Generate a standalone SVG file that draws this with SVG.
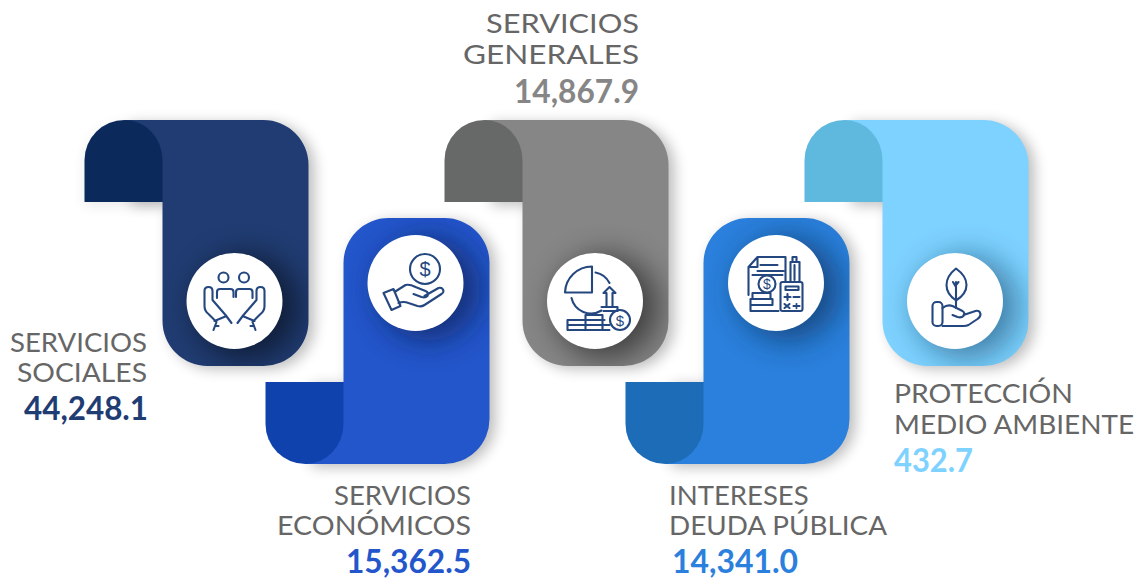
<svg xmlns="http://www.w3.org/2000/svg" width="1141" height="578" viewBox="0 0 1141 578">
<style>
.t{font-family:Lato,"Open Sans","Liberation Sans",sans-serif;font-size:27.5px;font-weight:400;fill:#666}
.n{font-family:Lato,"Open Sans","Liberation Sans",sans-serif;font-size:31.5px;font-weight:700}
.e{text-anchor:end}
.ic{fill:none;stroke:#24477f;stroke-width:2.1;stroke-linecap:round;stroke-linejoin:round}
.d{font-family:"Liberation Sans",sans-serif;fill:#24477f;text-anchor:middle}
.disc{fill:#fff}
</style>
<defs>
<filter id="b1" x="-30%" y="-30%" width="160%" height="160%"><feGaussianBlur stdDeviation="7"/></filter>
<filter id="b2" x="-60%" y="-60%" width="220%" height="220%"><feGaussianBlur stdDeviation="15"/></filter>
<path id="down" d="M125,120H263A45,45 0 0 1 308,165V321A45,45 0 0 1 263,366H207A45,45 0 0 1 162,321V202H125Z"/>
<path id="downtab" d="M84,202V160A40,40 0 0 1 124,120A38,40 0 0 1 162,160V202Z"/>
<path id="up" d="M388,218H444A45,45 0 0 1 489,263V419A45,45 0 0 1 444,464H305V382H343V263A45,45 0 0 1 388,218Z"/>
<path id="uptab" d="M265,382H343V424A38,40 0 0 1 305,464A40,40 0 0 1 265,424Z"/>
<clipPath id="cd"><use href="#down"/></clipPath>
<clipPath id="cu"><use href="#up"/></clipPath>
</defs>

<g id="node-servicios-sociales" transform="translate(.5 0)">
<use href="#down" x="6" y="3" fill="#000" opacity=".26" filter="url(#b1)"/>
<use href="#downtab" y="4" fill="#000" opacity=".08" filter="url(#b1)"/>
<use href="#down" fill="#203c72"/><use href="#downtab" fill="#0b2a5b"/>
<g clip-path="url(#cd)"><circle cx="246" cy="307" r="52" fill="#000" opacity=".52" filter="url(#b2)"/></g>
<circle class="disc" cx="234" cy="301" r="48"/>
<g class="ic">
<circle cx="223" cy="277.5" r="5"/><circle cx="243.5" cy="277.5" r="5"/>
<path d="M216.5,298V292Q216.5,289 219.5,289H230Q233,289 233,292V297M235.500,297V292Q235.500,289 238.500,289H249Q252,289 252,292V298"/>
<path d="M212,300V291Q212,287 208,287Q204,287 204,291V306Q204,311 208,314L215,321M212,300L225,315L231,323M214,321L226,316M216,322L213,330M215,326H218"/>
<path d="M256,300V291Q256,287 260,287Q264,287 264,291V306Q264,311 260,314L253,321M256,300L243,315L237,323M254,321L242,316M252,322L255,330M253,326H250"/>
</g>
</g>

<g id="node-servicios-economicos" transform="translate(.5 0)">
<use href="#up" x="6" y="3" fill="#000" opacity=".26" filter="url(#b1)"/>
<use href="#up" fill="#2356cb"/><use href="#uptab" fill="#1042ad"/>
<g clip-path="url(#cu)"><circle cx="428" cy="289" r="52" fill="#0b1d4d" opacity=".65" filter="url(#b2)"/></g>
<circle class="disc" cx="415" cy="283" r="48"/>
<g class="ic">
<circle cx="424.500" cy="269" r="15"/>
<path d="M383,293L393,289L400,306L391,310ZM394,292L405,285Q409,284 415,287L425,291Q429,293 427,296Q425,298 421,297L413,294M424,296L438,288Q442,287 443,291Q443,293 441,294L424,305Q421,307 417,306L408,303Q403,301 398,303"/>
</g>
<text class="d" x="424.500" y="276" font-size="20">$</text>
</g>

<g id="node-servicios-generales" transform="translate(.5 0)">
<use href="#down" x="366" y="3" fill="#000" opacity=".26" filter="url(#b1)"/>
<use href="#down" x="360" fill="#868686"/><use href="#downtab" x="360" fill="#676968"/>
<g clip-path="url(#cd)" transform="translate(360 0)"><circle cx="246" cy="307" r="52" fill="#000" opacity=".52" filter="url(#b2)"/></g>
<circle class="disc" cx="594.500" cy="301" r="48"/>
<g class="ic">
<path d="M591.500,266.500V292.500H564.500A27,27 0 0 1 591.500,266.500ZM595,272.500A20,20 0 0 1 609,283M571,298A20,20 0 0 0 601,310.500M606,306V293H603L609,287L615,293H612V306"/>
<path d="M567,320V330H609M567,325H609M567,320H585M585,315H602V330M585,320H604M601,307H617V311M603,311H617M585,315V330"/>
<circle cx="619.500" cy="320" r="10"/>
</g>
<text class="d" x="619.500" y="325.500" font-size="15">$</text>
</g>

<g id="node-intereses-deuda" transform="translate(.5 0)">
<use href="#up" x="366" y="3" fill="#000" opacity=".26" filter="url(#b1)"/>
<use href="#up" x="360" fill="#2a80dc"/><use href="#uptab" x="360" fill="#1c6cb8"/>
<g clip-path="url(#cu)" transform="translate(360 0)"><circle cx="428" cy="289" r="52" fill="#0b2d57" opacity=".65" filter="url(#b2)"/></g>
<circle class="disc" cx="775.500" cy="283" r="48"/>
<g class="ic">
<path d="M748,295V267L757,257H785V281M757,257V267H748M760,265H777M757,271H783M752,275H782M752,293H770M750,299H772M750,305H772M750,311H778M752,293V299M770,293V299M750,299V311M772,299V305"/>
<circle cx="766.500" cy="284" r="8.500"/>
<rect x="780" y="282" width="22" height="29" rx="2"/>
<path d="M785,286.500H798V290H785ZM784,297H790M787,294V300M793,297H799M784,304L789,308M789,304L784,308M793,306H799M796,304V304.100M796,308V308.100M790,282V262H799V282M792,262V257H796V262M794,265V280"/>
</g>
<text class="d" x="766.500" y="289" font-size="14">$</text>
</g>

<g id="node-proteccion" transform="translate(.5 0)">
<use href="#down" x="726" y="3" fill="#000" opacity=".26" filter="url(#b1)"/>
<use href="#down" x="720" fill="#7ed2ff"/><use href="#downtab" x="720" fill="#5fb8de"/>
<g clip-path="url(#cd)" transform="translate(720 0)"><circle cx="246" cy="307" r="52" fill="#0d3f63" opacity=".55" filter="url(#b2)"/></g>
<circle class="disc" cx="954.500" cy="301" r="48"/>
<g class="ic">
<path d="M955.500,268.500Q966,276 966,285Q966,294 955.500,300.500Q946,294 946,285Q946,276 955.500,268.500ZM955.500,282V308M955.500,287L952.500,282M955.500,285L958,282"/>
<rect x="932" y="302" width="10" height="24" rx="4"/>
<path d="M942,308Q947,304 952,306L962,311Q965,313 963,316Q961,318 957,317L952,315M963,315L975,311Q979,310 980,314Q980,317 977,319L968,325Q966,326 963,326H942"/>
</g>
</g>

<g id="labels">
<text class="t e" x="147" y="352" textLength="137" lengthAdjust="spacingAndGlyphs">SERVICIOS</text>
<text class="t e" x="147" y="382" textLength="130" lengthAdjust="spacingAndGlyphs">SOCIALES</text>
<text class="n e" x="148" y="420" fill="#1f3c73" textLength="124" lengthAdjust="spacingAndGlyphs">44,248.1</text>
<text class="t e" x="471" y="505" textLength="137" lengthAdjust="spacingAndGlyphs">SERVICIOS</text>
<text class="t e" x="471" y="535" textLength="194" lengthAdjust="spacingAndGlyphs">ECONÓMICOS</text>
<text class="n e" x="471" y="573" fill="#2356cb" textLength="125" lengthAdjust="spacingAndGlyphs">15,362.5</text>
<text class="t e" x="639" y="33" textLength="153" lengthAdjust="spacingAndGlyphs">SERVICIOS</text>
<text class="t e" x="639" y="64" textLength="176" lengthAdjust="spacingAndGlyphs">GENERALES</text>
<text class="n e" x="639" y="103" fill="#868686" textLength="125" lengthAdjust="spacingAndGlyphs">14,867.9</text>
<text class="t" x="669" y="505">INTERESES</text>
<text class="t" x="669" y="535" textLength="218" lengthAdjust="spacingAndGlyphs">DEUDA PÚBLICA</text>
<text class="n" x="672" y="573" fill="#2a80dc" textLength="126" lengthAdjust="spacingAndGlyphs">14,341.0</text>
<text class="t" x="894" y="403" textLength="179" lengthAdjust="spacingAndGlyphs">PROTECCIÓN</text>
<text class="t" x="894" y="434" textLength="240" lengthAdjust="spacingAndGlyphs">MEDIO AMBIENTE</text>
<text class="n" x="894" y="472" fill="#7ed2ff" textLength="79" lengthAdjust="spacingAndGlyphs">432.7</text>
</g>
</svg>
